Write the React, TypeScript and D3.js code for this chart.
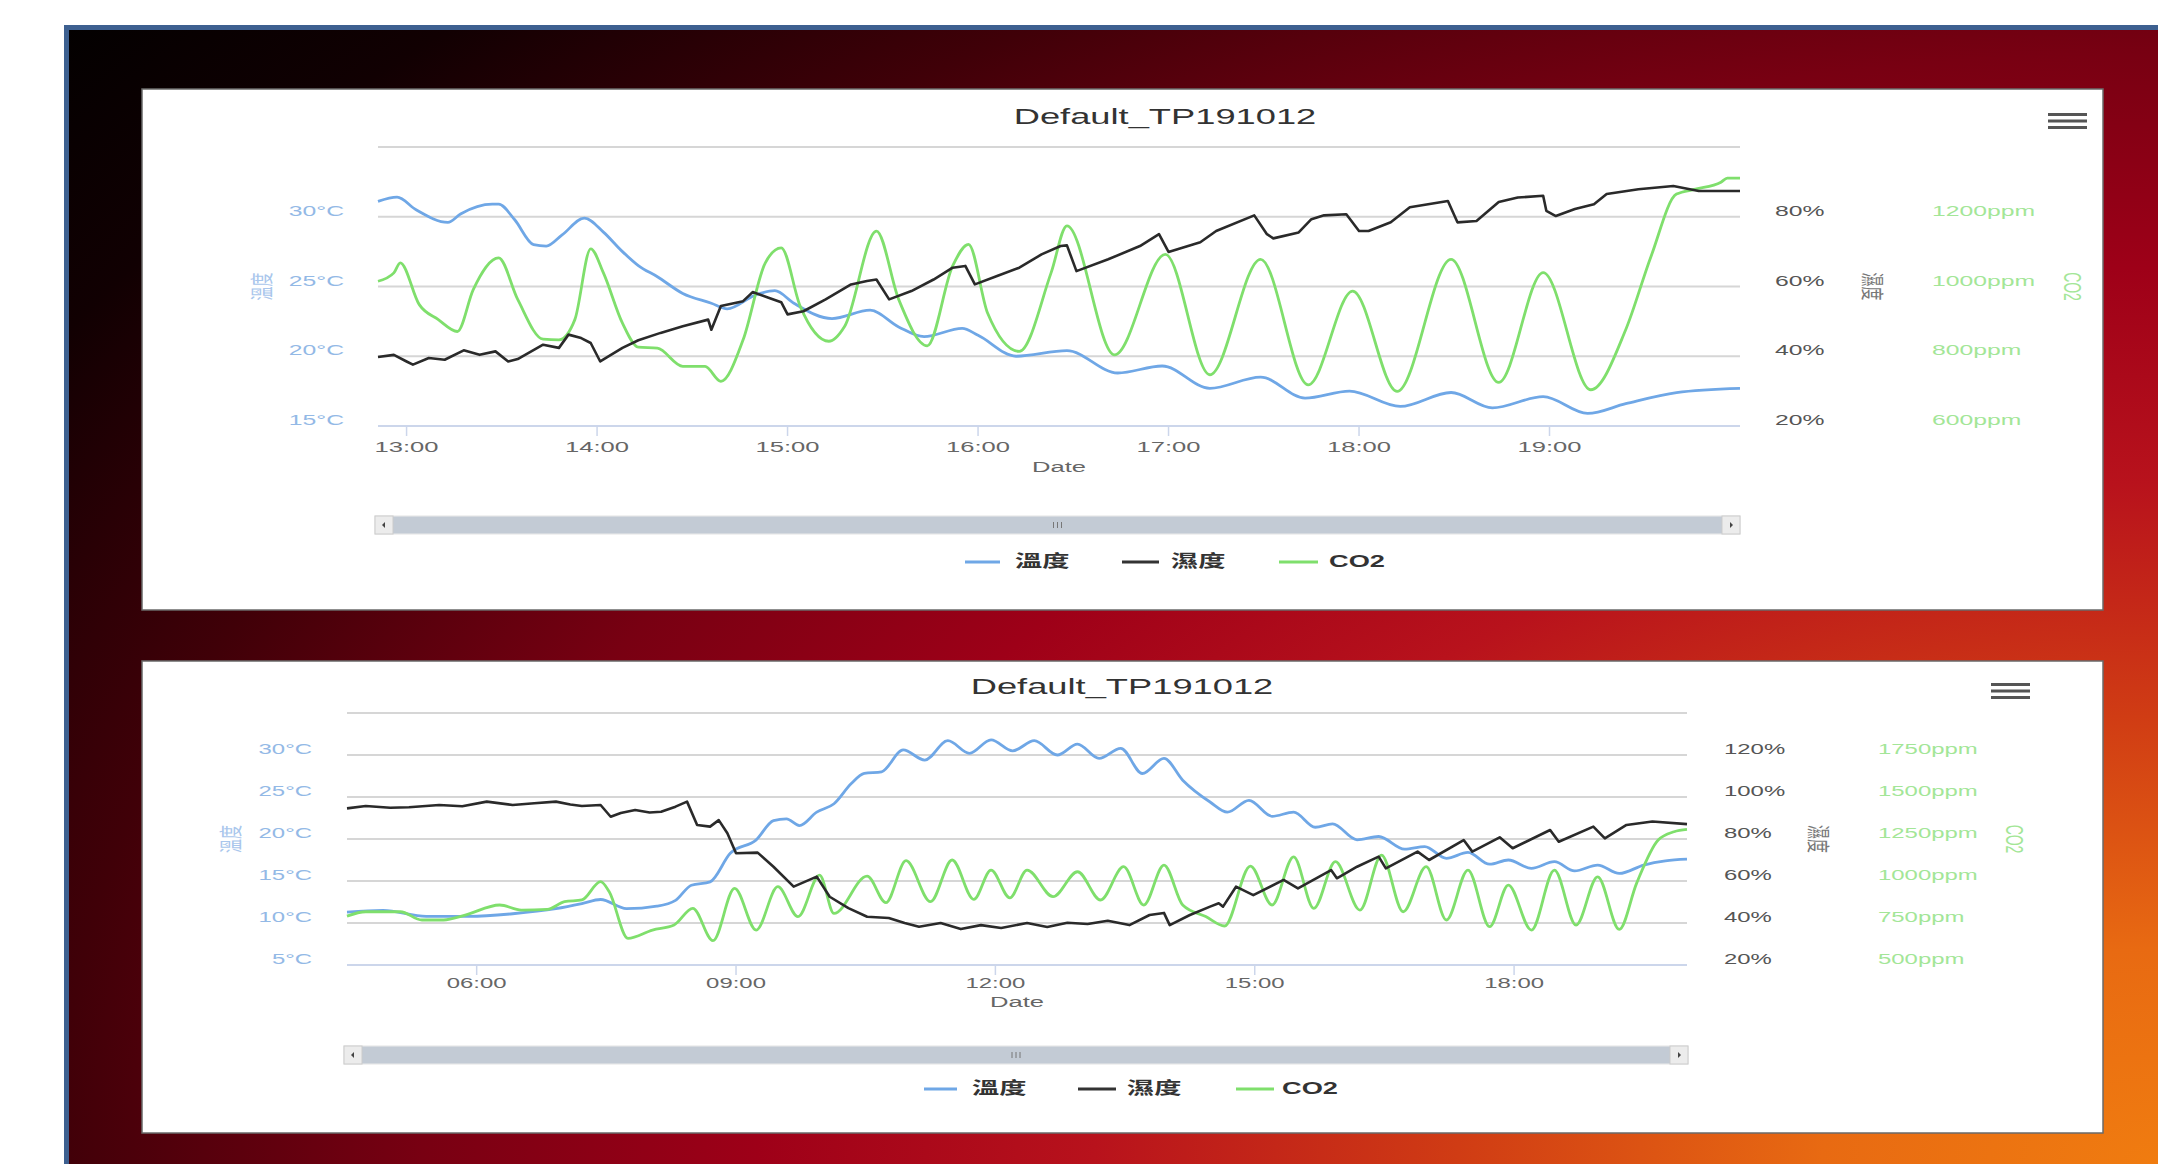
import React from 'react'
import * as d3 from 'd3'

const W = 2158
const H = 1164
const SX = 1.65 // the screenshot is stretched sideways, so is the text
const FONT = "'Liberation Sans', Arial, 'Noto Sans CJK TC', sans-serif"

const TITLE = 'Default_TP191012'
const seriesNames = ['溫度', '濕度', 'CO2']
const axisTitles = ['溫度', '濕度', 'CO2']
const colors = ['#6fa7e6', '#2a2a2a', '#7fdf6c']
const labelColors = ['#93b9e6', '#555555', '#a3e697']

type Pt = [string, number]

// ---- top chart (12:51 - 20:00)
const topHours = ['13:00', '14:00', '15:00', '16:00', '17:00', '18:00', '19:00']
const topTempTicks = [15, 20, 25, 30, 35]
const topHumTicks = [20, 40, 60, 80, 100]
const topCo2Ticks = [600, 800, 1000, 1200, 1400]

const topTemp: Pt[] = [
  ['12:51', 31.1], ['12:57', 31.4], ['13:03', 30.5], ['13:13', 29.6], ['13:17', 30.2], ['13:27', 30.9],
  ['13:29', 30.9], ['13:34', 29.8], ['13:40', 28.0], ['13:44', 27.9], ['13:49', 28.7], ['13:56', 29.9],
  ['14:02', 28.9], ['14:08', 27.5], ['14:13', 26.5], ['14:19', 25.7], ['14:27', 24.5], ['14:36', 23.8],
  ['14:41', 23.4], ['14:50', 24.4], ['14:56', 24.7], ['15:02', 23.8], ['15:14', 22.7], ['15:26', 23.3],
  ['15:35', 22.1], ['15:43', 21.4], ['15:55', 22.0], ['16:00', 21.5], ['16:12', 20.0], ['16:28', 20.4],
  ['16:44', 18.8], ['16:58', 19.3], ['17:13', 17.7], ['17:29', 18.5], ['17:43', 17.0], ['17:57', 17.5],
  ['18:13', 16.4], ['18:29', 17.4], ['18:42', 16.3], ['18:58', 17.1], ['19:12', 15.9], ['19:24', 16.6],
  ['19:40', 17.4], ['20:00', 17.7],
]
const topHum: Pt[] = [
  ['12:51', 39.8], ['12:56', 40.4], ['13:00', 38.5], ['13:02', 37.6], ['13:07', 39.5], ['13:12', 39.0],
  ['13:18', 41.7], ['13:23', 40.4], ['13:28', 41.4], ['13:32', 38.5], ['13:35', 39.2], ['13:43', 43.3],
  ['13:48', 42.4], ['13:51', 46.2], ['13:55', 45.2], ['13:58', 43.8], ['14:01', 38.5], ['14:08', 42.4],
  ['14:13', 44.6], ['14:20', 46.7], ['14:27', 48.6], ['14:35', 50.5], ['14:36', 47.6], ['14:39', 54.4],
  ['14:46', 55.8], ['14:49', 58.4], ['14:54', 56.8], ['14:58', 55.5], ['15:00', 52.0], ['15:05', 52.9],
  ['15:12', 56.3], ['15:20', 60.6], ['15:25', 61.6], ['15:28', 62.0], ['15:32', 56.3], ['15:39', 58.7],
  ['15:46', 62.0], ['15:52', 65.4], ['15:56', 65.9], ['15:59', 60.6], ['16:06', 63.0], ['16:13', 65.4],
  ['16:20', 69.2], ['16:26', 71.6], ['16:28', 71.8], ['16:31', 64.4], ['16:41', 67.8], ['16:51', 71.6],
  ['16:57', 75.0], ['17:00', 69.9], ['17:10', 72.7], ['17:15', 75.9], ['17:27', 80.4], ['17:31', 75.0],
  ['17:33', 73.8], ['17:41', 75.5], ['17:45', 79.3], ['17:49', 80.4], ['17:56', 80.7], ['18:00', 75.9],
  ['18:03', 75.9], ['18:10', 78.4], ['18:16', 82.7], ['18:28', 84.5], ['18:31', 78.4], ['18:37', 78.8],
  ['18:44', 84.2], ['18:50', 85.5], ['18:58', 86.0], ['18:59', 81.7], ['19:02', 80.2], ['19:08', 82.2],
  ['19:14', 83.6], ['19:18', 86.5], ['19:28', 87.9], ['19:39', 88.8], ['19:47', 87.4], ['20:00', 87.4],
]
const topCo2: Pt[] = [
  ['12:51', 1015], ['12:56', 1039], ['12:58', 1068], ['13:04', 948], ['13:10', 905], ['13:16', 871],
  ['13:21', 991], ['13:29', 1082], ['13:35', 963], ['13:43', 849], ['13:48', 847], ['13:53', 905],
  ['13:58', 1108], ['14:02', 1039], ['14:08', 895], ['14:13', 826], ['14:19', 823], ['14:27', 771],
  ['14:34', 771], ['14:39', 728], ['14:46', 847], ['14:53', 1068], ['14:58', 1111], ['15:04', 943],
  ['15:13', 843], ['15:18', 886], ['15:28', 1159], ['15:35', 963], ['15:44', 830], ['15:52', 1059],
  ['15:57', 1121], ['16:03', 924], ['16:13', 814], ['16:23', 1039], ['16:28', 1174], ['16:43', 804],
  ['16:59', 1092], ['17:13', 747], ['17:29', 1078], ['17:44', 718], ['17:58', 987], ['18:12', 699],
  ['18:29', 1078], ['18:44', 725], ['18:58', 1040], ['19:13', 704], ['19:24', 876], ['19:32', 1087],
  ['19:40', 1265], ['19:46', 1279], ['19:54', 1299], ['19:56', 1311], ['20:00', 1311],
]

// ---- bottom chart (04:30 - 20:00)
const bottomHours = ['06:00', '09:00', '12:00', '15:00', '18:00']
const bottomTempTicks = [5, 10, 15, 20, 25, 30, 35]
const bottomHumTicks = [20, 40, 60, 80, 100, 120, 140]
const bottomCo2Ticks = [500, 750, 1000, 1250, 1500, 1750, 2000]

const bottomTemp: Pt[] = [
  ['04:30', 11.3], ['04:55', 11.5], ['05:25', 10.8], ['05:55', 10.8], ['06:25', 11.1], ['06:55', 11.7],
  ['07:13', 12.3], ['07:26', 12.8], ['07:44', 11.7], ['08:05', 12.0], ['08:18', 12.7], ['08:29', 14.5],
  ['08:42', 14.9], ['08:56', 18.3], ['09:14', 19.9], ['09:26', 22.2], ['09:35', 22.4], ['09:44', 21.6],
  ['09:56', 23.2], ['10:08', 24.2], ['10:20', 26.6], ['10:29', 27.8], ['10:41', 28.0], ['10:56', 30.6],
  ['11:11', 29.4], ['11:27', 31.7], ['11:42', 30.2], ['11:57', 31.8], ['12:12', 30.5], ['12:27', 31.7],
  ['12:43', 30.0], ['12:57', 31.3], ['13:12', 29.6], ['13:27', 30.8], ['13:42', 27.8], ['13:57', 29.6],
  ['14:10', 27.0], ['14:29', 24.4], ['14:41', 23.2], ['14:56', 24.6], ['15:12', 22.7], ['15:27', 23.2],
  ['15:42', 21.4], ['15:54', 21.8], ['16:11', 19.9], ['16:26', 20.3], ['16:44', 18.8], ['16:58', 19.1],
  ['17:13', 17.7], ['17:28', 18.4], ['17:43', 17.0], ['17:56', 17.5], ['18:12', 16.5], ['18:28', 17.3],
  ['18:42', 16.2], ['18:58', 16.9], ['19:13', 15.9], ['19:30', 16.9], ['19:45', 17.4], ['20:00', 17.6],
]
const bottomHum: Pt[] = [
  ['04:30', 94.6], ['04:43', 95.7], ['05:00', 94.9], ['05:13', 95.1], ['05:34', 96.2], ['05:50', 95.6],
  ['06:07', 97.8], ['06:25', 96.2], ['06:40', 97.0], ['06:55', 97.8], ['07:05', 96.4], ['07:13', 95.7],
  ['07:26', 96.2], ['07:33', 90.6], ['07:40', 92.4], ['07:50', 93.8], ['08:00', 92.6], ['08:08', 93.0],
  ['08:18', 95.4], ['08:26', 97.8], ['08:33', 86.7], ['08:42', 85.9], ['08:48', 89.0], ['08:54', 82.7],
  ['09:00', 73.2], ['09:15', 73.5], ['09:26', 66.8], ['09:40', 57.3], ['09:56', 62.1], ['10:05', 52.5],
  ['10:18', 47.1], ['10:31', 43.0], ['10:46', 42.4], ['10:57', 40.0], ['11:07', 38.2], ['11:22', 40.0],
  ['11:36', 37.1], ['11:50', 39.0], ['12:04', 37.6], ['12:22', 40.0], ['12:36', 38.1], ['12:50', 40.1],
  ['13:04', 39.5], ['13:18', 41.1], ['13:33', 39.0], ['13:47', 43.8], ['13:57', 44.8], ['14:01', 39.0],
  ['14:15', 43.8], ['14:29', 47.8], ['14:35', 49.4], ['14:38', 47.8], ['14:47', 57.3], ['14:59', 53.3],
  ['15:20', 60.5], ['15:30', 56.5], ['15:53', 65.2], ['15:57', 61.3], ['16:11', 66.8], ['16:26', 71.6],
  ['16:31', 66.0], ['16:53', 74.0], ['17:01', 70.0], ['17:25', 79.5], ['17:31', 74.0], ['17:50', 80.8],
  ['17:59', 75.6], ['18:25', 84.3], ['18:31', 78.7], ['18:55', 85.9], ['19:03', 80.3], ['19:18', 86.7],
  ['19:36', 88.3], ['20:00', 87.1],
]
const bottomCo2: Pt[] = [
  ['04:30', 791], ['04:43', 817], ['05:07', 817], ['05:22', 768], ['05:37', 768], ['05:52', 797],
  ['06:16', 857], ['06:31', 827], ['06:49', 831], ['07:01', 877], ['07:13', 887], ['07:26', 996],
  ['07:32', 936], ['07:45', 659], ['08:02', 708], ['08:17', 738], ['08:30', 837], ['08:44', 645],
  ['08:59', 956], ['09:14', 708], ['09:29', 966], ['09:43', 788], ['09:58', 1035], ['10:08', 807],
  ['10:31', 1029], ['10:44', 871], ['10:58', 1121], ['11:15', 877], ['11:30', 1125], ['11:45', 891],
  ['11:57', 1065], ['12:10', 900], ['12:22', 1065], ['12:40', 907], ['12:57', 1055], ['13:13', 887],
  ['13:29', 1085], ['13:43', 857], ['13:57', 1095], ['14:10', 857], ['14:26', 788], ['14:39', 732],
  ['14:57', 1089], ['15:12', 857], ['15:27', 1144], ['15:41', 837], ['15:56', 1115], ['16:13', 827],
  ['16:28', 1154], ['16:43', 817], ['16:59', 1085], ['17:13', 768], ['17:28', 1065], ['17:43', 728],
  ['17:56', 976], ['18:12', 708], ['18:28', 1065], ['18:43', 738], ['18:58', 1025], ['19:13', 712],
  ['19:25', 986], ['19:40', 1244], ['19:51', 1293], ['20:00', 1307],
]

const parse = (s: string) => d3.timeParse('%H:%M')(s) as Date

type Layout = {
  panel: number[]
  plot: number[] // left, top, right, bottom
  domain: [string, string]
  title: number[]
  menu: number[]
  labelSize: number
  xLabelSize: number
  labelX: number[] // left axis right edge, humidity left, co2 left
  titleX: number[]
  xLabelY: number
  dateY: number
  scroll: number[]
  legendY: number
  legend: number[][]
}

const topLayout: Layout = {
  panel: [142, 89, 2103, 610],
  plot: [378, 147, 1740, 426],
  domain: ['12:51', '20:00'],
  title: [1165, 124],
  menu: [2048, 113, 39],
  labelSize: 15,
  xLabelSize: 15.5,
  labelX: [344, 1775, 1932],
  titleX: [262, 1872, 2072],
  xLabelY: 452,
  dateY: 472,
  scroll: [375, 1740, 516],
  legendY: 562,
  legend: [[965, 1000, 1015], [1122, 1159, 1171], [1279, 1318, 1329]],
}

const bottomLayout: Layout = {
  panel: [142, 661, 2103, 1133],
  plot: [347, 713, 1687, 965],
  domain: ['04:30', '20:00'],
  title: [1122, 694],
  menu: [1991, 683, 39],
  labelSize: 14.5,
  xLabelSize: 14.5,
  labelX: [312, 1724, 1878],
  titleX: [231, 1818, 2014],
  xLabelY: 988,
  dateY: 1007,
  scroll: [344, 1688, 1046],
  legendY: 1089,
  legend: [[924, 957, 972], [1078, 1116, 1127], [1236, 1274, 1282]],
}

const Txt = ({ x, y, size, fill, anchor = 'start', weight = 'normal', rotate = 0, central = false, children }: any) => (
  <text
    transform={`translate(${x},${y}) scale(${SX},1)${rotate ? ` rotate(${rotate})` : ''}`}
    textAnchor={anchor}
    fontSize={size}
    fontWeight={weight}
    fill={fill}
    dominantBaseline={central ? 'central' : 'auto'}
  >
    {children}
  </text>
)

function Chart({ L, temp, hum, co2, hours, tempTicks, humTicks, co2Ticks }: any) {
  const [l, t, r, b] = L.plot
  const x = d3.scaleTime().domain(L.domain.map(parse)).range([l, r])
  const yT = d3.scaleLinear().domain(d3.extent(tempTicks) as any).range([b, t])
  const yH = d3.scaleLinear().domain(d3.extent(humTicks) as any).range([b, t])
  const yC = d3.scaleLinear().domain(d3.extent(co2Ticks) as any).range([b, t])

  const mk = (y: any, curve: any) =>
    d3.line<Pt>().x(d => x(parse(d[0]))).y(d => y(d[1])).curve(curve)

  const [px1, py1, px2, py2] = L.panel
  const [sx1, sx2, sy] = L.scroll
  const sh = 18
  const midY = (t + b) / 2
  const cx = (l + r) / 2

  return (
    <g>
      <rect x={px1} y={py1} width={px2 - px1} height={py2 - py1} fill="#fff" stroke="#6a6a6a" strokeWidth={1.5} />
      <Txt x={L.title[0]} y={L.title[1]} size={22} fill="#333" anchor="middle">{TITLE}</Txt>

      {/* menu button */}
      {[0, 1, 2].map(i => (
        <rect key={i} x={L.menu[0]} y={L.menu[1] + i * 6.5} width={L.menu[2]} height={3} fill="#555" />
      ))}

      {/* grid */}
      {tempTicks.map((v: number) => (
        <line key={v} x1={l} x2={r} y1={yT(v)} y2={yT(v)} stroke="#d6d6d6" strokeWidth={2} />
      ))}
      <line x1={l} x2={r} y1={b} y2={b} stroke="#ccd6eb" strokeWidth={2} />
      {hours.map((h: string) => (
        <g key={h}>
          <line x1={x(parse(h))} x2={x(parse(h))} y1={b} y2={b + 10} stroke="#ccd6eb" strokeWidth={1.5} />
          <Txt x={x(parse(h))} y={L.xLabelY} size={L.xLabelSize} fill="#666" anchor="middle">{h}</Txt>
        </g>
      ))}
      <Txt x={cx} y={L.dateY} size={15.5} fill="#666" anchor="middle">Date</Txt>

      {/* y axis labels, top grid line has none */}
      {tempTicks.slice(0, -1).map((v: number) => (
        <Txt key={v} x={L.labelX[0]} y={yT(v) - 1} size={L.labelSize} fill={labelColors[0]} anchor="end">{`${v}°C`}</Txt>
      ))}
      {humTicks.slice(0, -1).map((v: number) => (
        <Txt key={v} x={L.labelX[1]} y={yH(v) - 1} size={L.labelSize} fill={labelColors[1]}>{`${v}%`}</Txt>
      ))}
      {co2Ticks.slice(0, -1).map((v: number) => (
        <Txt key={v} x={L.labelX[2]} y={yC(v) - 1} size={L.labelSize} fill={labelColors[2]}>{`${v}ppm`}</Txt>
      ))}
      <Txt x={L.titleX[0]} y={midY} size={14} fill="#a9c6ec" anchor="middle" rotate={-90} central>{axisTitles[0]}</Txt>
      <Txt x={L.titleX[1]} y={midY} size={14} fill="#777" anchor="middle" rotate={90} central>{axisTitles[1]}</Txt>
      <Txt x={L.titleX[2]} y={midY} size={14} fill={labelColors[2]} anchor="middle" rotate={90} central>{axisTitles[2]}</Txt>

      {/* series */}
      <path d={mk(yT, d3.curveMonotoneX)(temp) as string} fill="none" stroke={colors[0]} strokeWidth={2.8} strokeLinejoin="round" />
      <path d={mk(yC, d3.curveMonotoneX)(co2) as string} fill="none" stroke={colors[2]} strokeWidth={2.8} strokeLinejoin="round" />
      <path d={mk(yH, d3.curveLinear)(hum) as string} fill="none" stroke={colors[1]} strokeWidth={2.6} strokeLinejoin="round" />

      {/* navigator scrollbar */}
      <rect x={sx1} y={sy} width={sx2 - sx1} height={sh} fill="#f2f2f2" stroke="#e4e4e4" />
      <rect x={sx1 + sh} y={sy + 0.5} width={sx2 - sx1 - 2 * sh} height={sh - 1} fill="#c3cbd5" />
      <rect x={sx1} y={sy} width={sh} height={sh} fill="#ececec" stroke="#cccccc" />
      <rect x={sx2 - sh} y={sy} width={sh} height={sh} fill="#ececec" stroke="#cccccc" />
      <path d={`M${sx1 + 10},${sy + 6}L${sx1 + 7},${sy + 9}L${sx1 + 10},${sy + 12}Z`} fill="#444" />
      <path d={`M${sx2 - 10},${sy + 6}L${sx2 - 7},${sy + 9}L${sx2 - 10},${sy + 12}Z`} fill="#444" />
      {[-4, 0, 4].map(d => (
        <line key={d} x1={(sx1 + sx2) / 2 + d} x2={(sx1 + sx2) / 2 + d} y1={sy + 6} y2={sy + 12} stroke="#777" strokeWidth={1} />
      ))}

      {/* legend */}
      {L.legend.map((it: number[], i: number) => (
        <g key={i}>
          <line x1={it[0]} x2={it[1]} y1={L.legendY} y2={L.legendY} stroke={i === 1 ? '#333' : colors[i]} strokeWidth={3} />
          <Txt x={it[2]} y={L.legendY} size={16.5} fill="#333" weight="bold" central>{seriesNames[i]}</Txt>
        </g>
      ))}
    </g>
  )
}

export default function App() {
  return (
    <svg width={W} height={H} style={{ position: 'absolute', left: 0, top: 0, display: 'block' }} fontFamily={FONT}>
      <defs>
        <radialGradient
          id="bg"
          gradientUnits="userSpaceOnUse"
          cx={W}
          cy={H}
          r={2800}
          gradientTransform={`translate(${W},${H}) scale(1,0.64) translate(${-W},${-H})`}
        >
          <stop offset="0" stopColor="#f07c10" />
          <stop offset="0.12" stopColor="#e86a12" />
          <stop offset="0.25" stopColor="#d03c14" />
          <stop offset="0.38" stopColor="#b8121c" />
          <stop offset="0.5" stopColor="#9e0018" />
          <stop offset="0.62" stopColor="#780012" />
          <stop offset="0.75" stopColor="#400008" />
          <stop offset="0.88" stopColor="#110002" />
          <stop offset="1" stopColor="#000" />
        </radialGradient>
      </defs>
      <rect width={W} height={H} fill="#fff" />
      <rect x={64} y={25} width={W - 64} height={H - 25} fill="url(#bg)" />
      <line x1={64} x2={W} y1={27.5} y2={27.5} stroke="#3d6090" strokeWidth={5} />
      <line x1={66.5} x2={66.5} y1={25} y2={H} stroke="#3d6090" strokeWidth={5} />

      <Chart L={topLayout} temp={topTemp} hum={topHum} co2={topCo2} hours={topHours}
        tempTicks={topTempTicks} humTicks={topHumTicks} co2Ticks={topCo2Ticks} />
      <Chart L={bottomLayout} temp={bottomTemp} hum={bottomHum} co2={bottomCo2} hours={bottomHours}
        tempTicks={bottomTempTicks} humTicks={bottomHumTicks} co2Ticks={bottomCo2Ticks} />
    </svg>
  )
}
